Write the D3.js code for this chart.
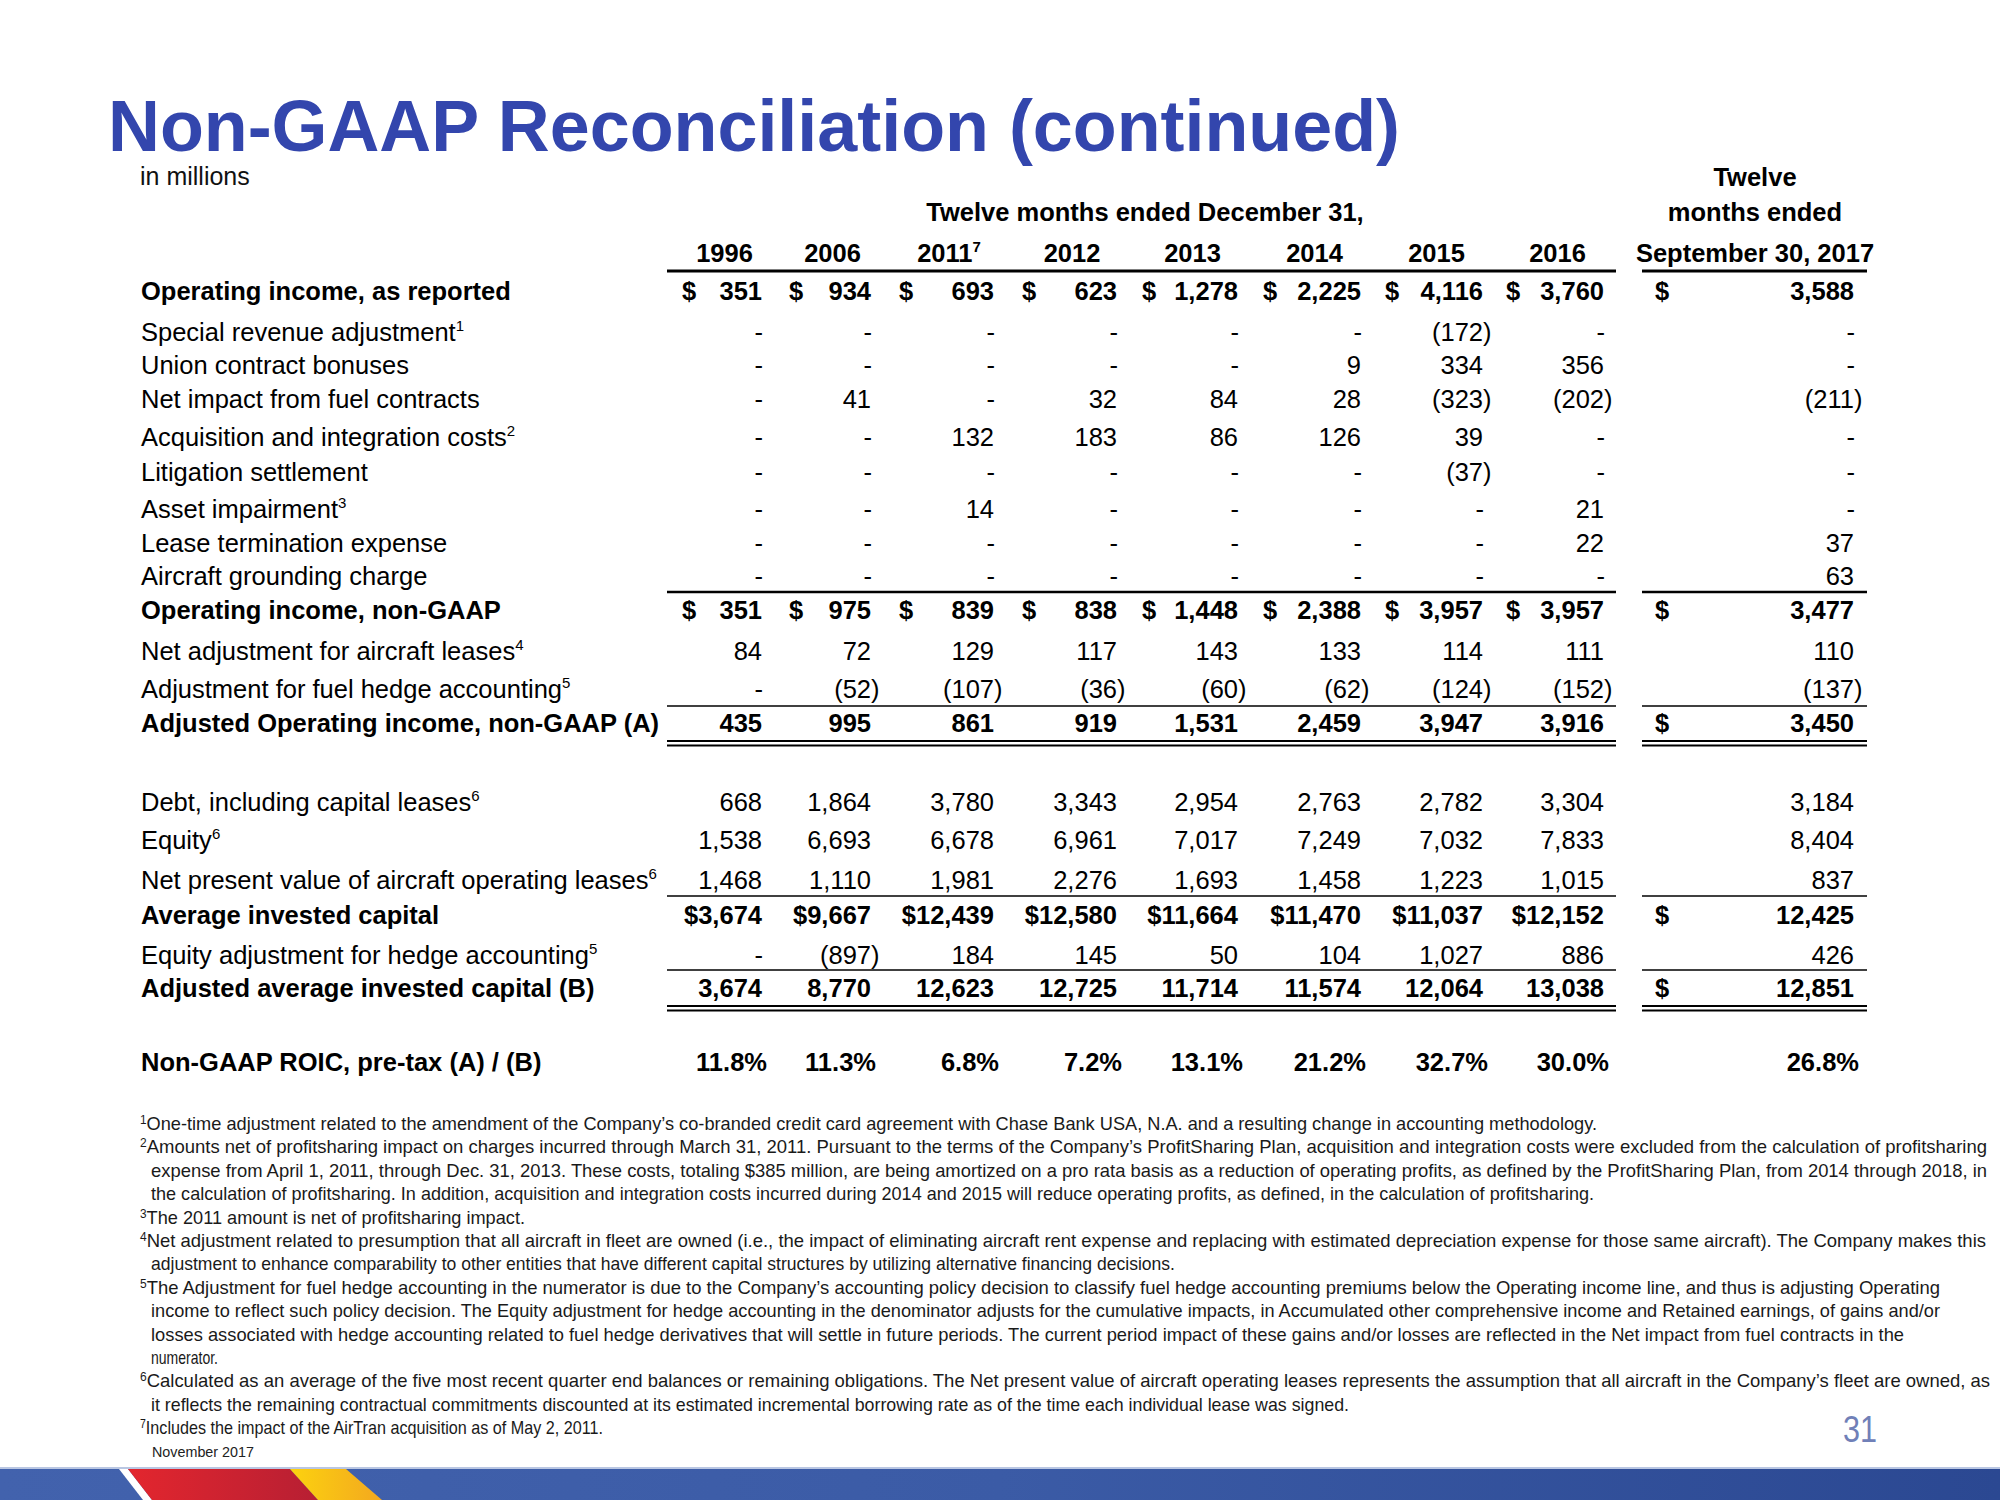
<!DOCTYPE html>
<html><head><meta charset="utf-8">
<script src="https://cdn.jsdelivr.net/npm/d3@7"></script>
<style>
body{margin:0;background:#fff}
svg{display:block}
text{font-family:"Liberation Sans",Arial,Helvetica,sans-serif}
</style>
</head><body>
<svg id="chart" width="2000" height="1500"></svg>
<script>
// ---------------- DATA ----------------
const columns = ["1996","2006","2011","2012","2013","2014","2015","2016","Sep2017"];
const yearLabels = ["1996","2006","2011","2012","2013","2014","2015","2016"];
const yearSuperscripts = ["","","7","","","","",""];
const lastColumnHeader = ["Twelve","months ended","September 30, 2017"];
const groupHeader = "Twelve months ended December 31,";

const rowKeys = ["opReported","specialRevenue","unionBonuses","fuelContracts","acquisitionCosts",
  "litigation","assetImpairment","leaseTermination","groundingCharge","opNonGaap",
  "aircraftLeasesAdj","fuelHedgeAdj","adjustedOp","debt","equity","npvLeases",
  "avgInvested","equityHedgeAdj","adjustedAvg","roic"];
const rowLabels = ["Operating income, as reported","Special revenue adjustment","Union contract bonuses",
  "Net impact from fuel contracts","Acquisition and integration costs","Litigation settlement",
  "Asset impairment","Lease termination expense","Aircraft grounding charge","Operating income, non-GAAP",
  "Net adjustment for aircraft leases","Adjustment for fuel hedge accounting",
  "Adjusted Operating income, non-GAAP (A)","Debt, including capital leases","Equity",
  "Net present value of aircraft operating leases","Average invested capital",
  "Equity adjustment for hedge accounting","Adjusted average invested capital (B)",
  "Non-GAAP ROIC, pre-tax (A) / (B)"];
const rowSuperscripts = ["","1","","","2","","3","","","","4","5","","6","6","6","","5","",""];

const opIncomeReported   = [351, 934, 693, 623, 1278, 2225, 4116, 3760, 3588];
const specialRevenue     = [0, 0, 0, 0, 0, 0, -172, 0, 0];
const unionBonuses       = [0, 0, 0, 0, 0, 9, 334, 356, 0];
const fuelContracts      = [0, 41, 0, 32, 84, 28, -323, -202, -211];
const acquisitionCosts   = [0, 0, 132, 183, 86, 126, 39, 0, 0];
const litigation         = [0, 0, 0, 0, 0, 0, -37, 0, 0];
const assetImpairment    = [0, 0, 14, 0, 0, 0, 0, 21, 0];
const leaseTermination   = [0, 0, 0, 0, 0, 0, 0, 22, 37];
const groundingCharge    = [0, 0, 0, 0, 0, 0, 0, 0, 63];
const opIncomeNonGaap    = [351, 975, 839, 838, 1448, 2388, 3957, 3957, 3477];
const aircraftLeasesAdj  = [84, 72, 129, 117, 143, 133, 114, 111, 110];
const fuelHedgeAdj       = [0, -52, -107, -36, -60, -62, -124, -152, -137];
const adjustedOpIncome   = [435, 995, 861, 919, 1531, 2459, 3947, 3916, 3450];
const debt               = [668, 1864, 3780, 3343, 2954, 2763, 2782, 3304, 3184];
const equity             = [1538, 6693, 6678, 6961, 7017, 7249, 7032, 7833, 8404];
const npvLeases          = [1468, 1110, 1981, 2276, 1693, 1458, 1223, 1015, 837];
const avgInvestedCapital = [3674, 9667, 12439, 12580, 11664, 11470, 11037, 12152, 12425];
const equityHedgeAdj     = [0, -897, 184, 145, 50, 104, 1027, 886, 426];
const adjustedAvgCapital = [3674, 8770, 12623, 12725, 11714, 11574, 12064, 13038, 12851];
const roicPct            = [11.8, 11.3, 6.8, 7.2, 13.1, 21.2, 32.7, 30.0, 26.8];

const rowValues = [opIncomeReported, specialRevenue, unionBonuses, fuelContracts, acquisitionCosts,
  litigation, assetImpairment, leaseTermination, groundingCharge, opIncomeNonGaap,
  aircraftLeasesAdj, fuelHedgeAdj, adjustedOpIncome, debt, equity, npvLeases,
  avgInvestedCapital, equityHedgeAdj, adjustedAvgCapital, roicPct];

const footnoteSups = ["1","2","","","3","4","","5","","","","6","","7"];
const footnoteLines = [
 "One-time adjustment related to the amendment of the Company’s co-branded credit card agreement with Chase Bank USA, N.A. and a resulting change in accounting methodology.",
 "Amounts net of profitsharing impact on charges incurred through March 31, 2011. Pursuant to the terms of the Company’s ProfitSharing Plan, acquisition and integration costs were excluded from the calculation of profitsharing",
 "expense from April 1, 2011, through Dec. 31, 2013. These costs, totaling $385 million, are being amortized on a pro rata basis as a reduction of operating profits, as defined by the ProfitSharing Plan, from 2014 through 2018, in",
 "the calculation of profitsharing. In addition, acquisition and integration costs incurred during 2014 and 2015 will reduce operating profits, as defined, in the calculation of profitsharing.",
 "The 2011 amount is net of profitsharing impact.",
 "Net adjustment related to presumption that all aircraft in fleet are owned (i.e., the impact of eliminating aircraft rent expense and replacing with estimated depreciation expense for those same aircraft). The Company makes this",
 "adjustment to enhance comparability to other entities that have different capital structures by utilizing alternative financing decisions.",
 "The Adjustment for fuel hedge accounting in the numerator is due to the Company’s accounting policy decision to classify fuel hedge accounting premiums below the Operating income line, and thus is adjusting Operating",
 "income to reflect such policy decision. The Equity adjustment for hedge accounting in the denominator adjusts for the cumulative impacts, in Accumulated other comprehensive income and Retained earnings, of gains and/or",
 "losses associated with hedge accounting related to fuel hedge derivatives that will settle in future periods. The current period impact of these gains and/or losses are reflected in the Net impact from fuel contracts in the",
 "numerator.",
 "Calculated as an average of the five most recent quarter end balances or remaining obligations. The Net present value of aircraft operating leases represents the assumption that all aircraft in the Company’s fleet are owned, as",
 "it reflects the remaining contractual commitments discounted at its estimated incremental borrowing rate as of the time each individual lease was signed.",
 "Includes the impact of the AirTran acquisition as of May 2, 2011."
];
const titleText = "Non-GAAP Reconciliation (continued)";
const unitText = "in millions";
const dateText = "November  2017";
const pageNumber = "31";

// ---------------- LAYOUT / STYLE ----------------
const W = 2000, H = 1500;
const colRight = [762, 871, 994, 1117, 1238, 1361, 1483, 1604, 1854];
const dollarX  = [689, 796, 906, 1029, 1149, 1270, 1392, 1513, 1662];
const rowBaselines = [300,341,374,408,446,481,518,552,585,619,660,698,732,811,849,889,924,964,997,1071];
const boldRows = new Set(["opReported","opNonGaap","adjustedOp","avgInvested","adjustedAvg","roic"]);
const dollarAll = new Set(["opReported","opNonGaap"]);
const dollarAttached = new Set(["avgInvested"]);
const dollarLastOnly = new Set(["adjustedOp","adjustedAvg"]);
const footRight = [1597,1987,1987,1594,525,1986,1175,1940,1940,1904,218,1990,1349,603];
const FS = 25.5, labelX = 141;
const blue = "#3346ad";

const svg = d3.select("#chart");
svg.append("rect").attr("width", W).attr("height", H).attr("fill", "#fff");

const x = d3.scaleOrdinal().domain(columns).range(colRight);
const xDollar = d3.scaleOrdinal().domain(columns).range(dollarX);
const y = d3.scaleOrdinal().domain(rowKeys).range(rowBaselines);
const fmt = d3.format(",");
const fmtPct = d3.format(".1f");

// ---------------- TITLE ----------------
svg.append("text").attr("x", 108).attr("y", 151).attr("font-size", 72).attr("font-weight", "bold")
  .attr("fill", blue).attr("textLength", 1292).attr("lengthAdjust", "spacingAndGlyphs").text(titleText);
svg.append("text").attr("x", 140).attr("y", 185).attr("font-size", 25).attr("fill", "#111").text(unitText);

// ---------------- HEADERS ----------------
const cellCenter = i => (dollarX[i] + colRight[i]) / 2 - 1;
svg.append("text").attr("x", 1145).attr("y", 221).attr("font-size", FS).attr("font-weight", "bold")
  .attr("text-anchor", "middle").text(groupHeader);
const hdr = svg.append("g").attr("font-size", FS).attr("font-weight", "bold").attr("text-anchor", "middle");
yearLabels.forEach((yl, i) => {
  const t = hdr.append("text").attr("x", cellCenter(i)).attr("y", 262);
  t.append("tspan").text(yl);
  if (yearSuperscripts[i]) t.append("tspan").attr("font-size", 15).attr("dy", -10).text(yearSuperscripts[i]);
});
lastColumnHeader.forEach((s, i) => {
  hdr.append("text").attr("x", cellCenter(8) - 2).attr("y", [186, 221, 262][i]).text(s);
});

// ---------------- RULES ----------------
const seg1 = [dollarX[0] - 22, colRight[7] + 12];
const seg2 = [dollarX[8] - 20, colRight[8] + 13];
function rule(yy, w) {
  [seg1, seg2].forEach(s => svg.append("line").attr("x1", s[0]).attr("x2", s[1])
    .attr("y1", yy).attr("y2", yy).attr("stroke", "#000").attr("stroke-width", w));
}
rule(271, 3.2);
rule(592, 2.6);
rule(706, 1.6);
rule(741, 2); rule(745.5, 2);
rule(896, 1.6);
rule(970, 1.6);
rule(1006, 2); rule(1010.5, 2);

// ---------------- ROWS ----------------
const rows = rowKeys.map((k, i) => ({key: k, label: rowLabels[i], sup: rowSuperscripts[i], values: rowValues[i]}));
const rowG = svg.append("g").attr("font-size", FS).attr("fill", "#000");
rows.forEach(r => {
  const bold = boldRows.has(r.key) ? "bold" : "normal";
  const lt = rowG.append("text").attr("x", labelX).attr("y", y(r.key)).attr("font-weight", bold);
  lt.append("tspan").text(r.label);
  if (r.sup) lt.append("tspan").attr("font-size", 15).attr("dy", -10).text(r.sup);

  r.values.forEach((v, ci) => {
    const col = columns[ci];
    let txt, xx = x(col);
    if (r.key === "roic") { txt = fmtPct(v) + "%"; xx += 5; }
    else if (v === 0) { txt = "-"; xx += 1; }
    else if (v < 0) { txt = "(" + fmt(-v) + ")"; xx += 8.5; }
    else txt = fmt(v);
    if (dollarAttached.has(r.key) && ci < 8) txt = "$" + txt;
    rowG.append("text").attr("x", xx).attr("y", y(r.key)).attr("text-anchor", "end")
      .attr("font-weight", bold).text(txt);
    const needDollar = dollarAll.has(r.key) || ((dollarLastOnly.has(r.key) || dollarAttached.has(r.key)) && ci === 8);
    if (needDollar) rowG.append("text").attr("x", xDollar(col)).attr("y", y(r.key))
      .attr("text-anchor", "middle").attr("font-weight", "bold").text("$");
  });
});

// ---------------- FOOTNOTES ----------------
const fg = svg.append("g").attr("font-size", 18.5).attr("fill", "#1a1a1a");
footnoteLines.forEach((line, i) => {
  const by = 1130 + i * 23.4;
  const hasSup = footnoteSups[i] !== "";
  const x0 = hasSup ? 140 : 151;
  const t = fg.append("text").attr("x", x0).attr("y", by)
    .attr("textLength", footRight[i] - x0).attr("lengthAdjust", "spacingAndGlyphs");
  if (hasSup) {
    t.append("tspan").attr("font-size", 12).attr("dy", -6).text(footnoteSups[i]);
    t.append("tspan").attr("dy", 6).text(line);
  } else t.text(line);
});
svg.append("text").attr("x", 152).attr("y", 1457).attr("font-size", 14).attr("fill", "#222")
  .attr("textLength", 102).attr("lengthAdjust", "spacingAndGlyphs").text(dateText);
svg.append("text").attr("x", 1877).attr("y", 1442).attr("font-size", 36).attr("fill", "#7080b8")
  .attr("text-anchor", "end").attr("textLength", 34).attr("lengthAdjust", "spacingAndGlyphs").text(pageNumber);

// ---------------- BOTTOM BAND ----------------
const defs = svg.append("defs");
const g1 = defs.append("linearGradient").attr("id", "bandG").attr("x1", 0).attr("x2", 1);
g1.append("stop").attr("offset", 0).attr("stop-color", "#4262ad");
g1.append("stop").attr("offset", 0.5).attr("stop-color", "#3b5ba6");
g1.append("stop").attr("offset", 1).attr("stop-color", "#2b4892");
const g2 = defs.append("linearGradient").attr("id", "redG").attr("x1", 0).attr("x2", 1);
g2.append("stop").attr("offset", 0).attr("stop-color", "#e3262e");
g2.append("stop").attr("offset", 1).attr("stop-color", "#b71f33");
const g3 = defs.append("linearGradient").attr("id", "yelG").attr("x1", 0).attr("x2", 1);
g3.append("stop").attr("offset", 0).attr("stop-color", "#fcd20f");
g3.append("stop").attr("offset", 1).attr("stop-color", "#f3a81f");
svg.append("rect").attr("x", 0).attr("y", 1467).attr("width", W).attr("height", 2).attr("fill", "#b9c6e2");
svg.append("rect").attr("x", 0).attr("y", 1469).attr("width", W).attr("height", 31).attr("fill", "url(#bandG)");
svg.append("polygon").attr("points", "119,1469 128,1469 152,1500 143,1500").attr("fill", "#fff");
svg.append("polygon").attr("points", "128,1469 290,1469 318,1500 152,1500").attr("fill", "url(#redG)");
svg.append("polygon").attr("points", "290,1469 346,1469 382,1500 318,1500").attr("fill", "url(#yelG)");
</script>
</body></html>
